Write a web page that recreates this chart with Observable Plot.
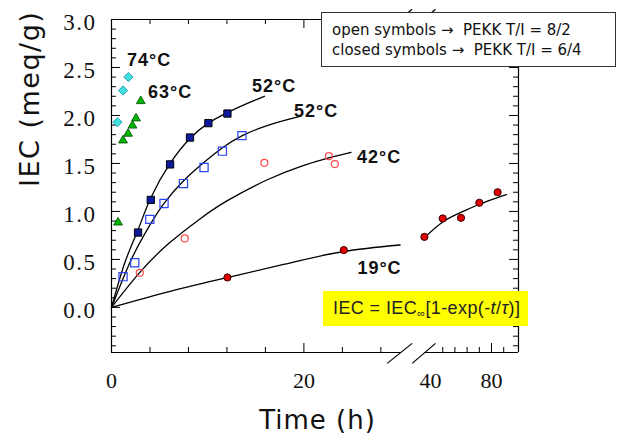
<!DOCTYPE html>
<html><head><meta charset="utf-8">
<script src="https://cdn.jsdelivr.net/npm/d3@7"></script>
<script src="https://cdn.jsdelivr.net/npm/@observablehq/plot@0.6"></script>
<style>
body{margin:0;background:#fff;}
#wrap{position:relative;width:620px;height:440px;overflow:hidden;background:#fff;}
#legend{position:absolute;left:321px;top:12px;width:293px;height:53px;border:1px solid #333;background:#fff;
  font-family:"DejaVu Sans",sans-serif;font-size:15px;line-height:20px;padding:0;box-sizing:content-box;color:#111;}
#legend div{white-space:pre;padding-left:10px;}
#eq{position:absolute;left:323px;top:291px;width:205px;height:35px;background:#ffff00;
  font-family:"Liberation Sans",Arial,sans-serif;font-size:18px;letter-spacing:0.4px;line-height:35px;color:#222;white-space:pre;padding-left:10px;box-sizing:border-box;}
#eq sub{font-size:11px;vertical-align:-3px;line-height:0;}
</style></head>
<body><div id="wrap"></div>
<script>
// ---- data ----
const closed74T = [0.62, 1.2, 1.76];
const closed74V = [1.93, 2.26, 2.40];
const closed63T = [0.68, 1.2, 1.72, 2.18, 2.55, 3.04];
const closed63V = [0.885, 1.74, 1.81, 1.895, 1.97, 2.15];
const closed52T = [2.76, 4.08, 6.09, 8.16, 10.07, 12.05];
const closed52V = [0.78, 1.12, 1.49, 1.77, 1.92, 2.02];
const open52T = [1.2, 2.42, 3.98, 5.46, 7.48, 9.62, 11.53, 13.56];
const open52V = [0.32, 0.465, 0.917, 1.083, 1.29, 1.458, 1.628, 1.79];
const open42T = [2.94, 7.61, 15.89, 22.6, 23.22];
const open42V = [0.36, 0.719, 1.506, 1.576, 1.493];
const closed19T = [12.05, 24.15, 36, 48, 60, 72, 84];
const closed19V = [0.312, 0.597, 0.735, 0.927, 0.933, 1.09, 1.20];

// fitted curves
const fit52cT = [0, 1.4, 2.76, 4.08, 6.09, 8.16, 10.07, 12.05, 14, 15.9];
const fit52cV = [0, 0.47, 0.81, 1.14, 1.50, 1.76, 1.92, 2.03, 2.12, 2.20];
const fit52oT = [0, 1.2, 2.4, 4, 5.5, 7.5, 9.6, 11.5, 13.6, 16.5, 19.6];
const fit52oV = [0, 0.30, 0.57, 0.86, 1.09, 1.32, 1.51, 1.66, 1.79, 1.905, 1.99];
const fit42T = [0, 2.9, 6, 9.3, 12, 16.2, 19.7, 22.5, 24.9];
const fit42V = [0, 0.36, 0.67, 0.93, 1.11, 1.33, 1.47, 1.555, 1.615];
const fit19aT = [0, 6, 12, 18, 24, 30];
const fit19aV = [0, 0.165, 0.31, 0.45, 0.58, 0.65];
const fit19bT = [35.2, 48, 60, 72, 84, 89.8];
const fit19bV = [0.715, 0.89, 0.99, 1.075, 1.145, 1.175];

// temperature labels
const tempText = ["74°C", "63°C", "52°C", "52°C", "42°C", "19°C"];
const tempT = [3.9, 6.1, 16.9, 21.27, 27.81, 27.86];
const tempV = [2.576, 2.237, 2.305, 2.044, 1.56, 0.403];

// axes
const xTickLabels = [0, 20, 40, 80];
const xMajorTicks = [20, 80];
const xMinorTicks = [4, 8, 12, 16, 24, 28, 48, 56, 64, 72, 88];
const yTickLabels = [0, 0.5, 1, 1.5, 2, 2.5, 3];
const yMinorTicks = d3.range(-4, 30).map(i => i / 10).filter(v => Math.abs(v * 2 - Math.round(v * 2)) > 1e-6);
const xSegStart = [0, 36.4];
const xSegEnd = [30.2, 97.7];
const breakFrom = [28.66, 32.65];
const breakTo = [32.65, 43.26];

// ---- build ----
const mk = (T, V) => T.map((t, i) => ({t, v: V[i]}));
const yMin = -0.47, yMax = 3.0, xMax = 97.7;
const mL = 111, mR = 102, mT = 19, mB = 88;
const pw = 620 - mL - mR, ph = 440 - mT - mB;
const segs = xSegStart.map((s, i) => ({x1: s, x2: xSegEnd[i]}));
const slashes = breakFrom.map((a, i) => ({a, b: breakTo[i]}));
const curveStyle = {x: "t", y: "v", curve: "natural", stroke: "#000", strokeWidth: 1.3};

const chart = Plot.plot({
  width: 620, height: 440,
  marginLeft: mL, marginRight: mR, marginTop: mT, marginBottom: mB,
  x: {type: "linear", domain: [0, 30, 35, xMax], range: [111, 399.6, 422.4, 518]},
  y: {domain: [yMin, yMax]},
  marks: [
    // frame
    Plot.ruleX([0, xMax], {stroke: "#000", strokeWidth: 1.2}),
    Plot.ruleY(segs, {y: yMin, x1: "x1", x2: "x2", stroke: "#000", strokeWidth: 1.2}),
    Plot.ruleY(segs, {y: yMax, x1: "x1", x2: "x2", stroke: "#000", strokeWidth: 1.2}),
    Plot.link(slashes, {x1: "a", x2: "b", y1: -0.583, y2: -0.375, stroke: "#000", strokeWidth: 1.2}),
    Plot.link(slashes, {x1: "a", x2: "b", y1: 2.899, y2: 3.107, stroke: "#000", strokeWidth: 1.2}),
    // inward ticks
    Plot.tickY(yTickLabels, {y: d => d, insetRight: pw - 9, stroke: "#000"}),
    Plot.tickY(yMinorTicks, {y: d => d, insetRight: pw - 5, stroke: "#000"}),
    Plot.tickY(yTickLabels, {y: d => d, insetLeft: pw - 9, stroke: "#000"}),
    Plot.tickY(yMinorTicks, {y: d => d, insetLeft: pw - 5, stroke: "#000"}),
    Plot.tickX(xMajorTicks, {x: d => d, insetTop: ph - 9, stroke: "#000"}),
    Plot.tickX(xMinorTicks, {x: d => d, insetTop: ph - 5, stroke: "#000"}),
    Plot.tickX(xMajorTicks, {x: d => d, insetBottom: ph - 9, stroke: "#000"}),
    Plot.tickX(xMinorTicks, {x: d => d, insetBottom: ph - 5, stroke: "#000"}),
    // tick labels
    Plot.axisX({ticks: xTickLabels, tickSize: 0, tickPadding: 20, tickFormat: d => String(d),
      fontSize: 22, fontFamily: "Liberation Serif, serif", label: null, anchor: "bottom", fill: "#111"}),
    Plot.axisY({ticks: yTickLabels, tickSize: 0, tickPadding: 15, tickFormat: d3.format(".1f"),
      fontSize: 23, fontFamily: "Liberation Serif, serif", label: null, anchor: "left", dy: 3, fill: "#111"}),
    // titles
    Plot.text(["Time (h)"], {frameAnchor: "bottom", dy: 76, dx: 2.5, text: d => d, fontSize: 26,
      fontFamily: "DejaVu Sans, sans-serif", fill: "#111"}),
    Plot.text(["IEC (meq/g)"], {frameAnchor: "left", rotate: -90, dx: -81, dy: 1, text: d => d, fontSize: 27,
      fontFamily: "DejaVu Sans, sans-serif", fill: "#111"}),
    // fitted curves
    Plot.line(mk(fit52cT, fit52cV), curveStyle),
    Plot.line(mk(fit52oT, fit52oV), curveStyle),
    Plot.line(mk(fit42T, fit42V), curveStyle),
    Plot.line(mk(fit19aT, fit19aV), curveStyle),
    Plot.line(mk(fit19bT, fit19bV), curveStyle),
    // data points
    Plot.dot(mk(open52T, open52V), {x: "t", y: "v", symbol: "square", r: 4.6, fill: "none", stroke: "#2a45f0", strokeWidth: 1.2}),
    Plot.dot(mk(open42T, open42V), {x: "t", y: "v", symbol: "circle", r: 3.5, fill: "none", stroke: "#ff4a4a", strokeWidth: 1.2}),
    Plot.dot(mk(closed52T, closed52V), {x: "t", y: "v", symbol: "square", r: 4.1, fill: "#0d1a9e", stroke: "#000", strokeWidth: 1}),
    Plot.dot(mk(closed19T, closed19V), {x: "t", y: "v", symbol: "circle", r: 3.6, fill: "#e00000", stroke: "#3a0000", strokeWidth: 1}),
    Plot.dot(mk(closed63T, closed63V), {x: "t", y: "v", symbol: "triangle", r: 3.3, fill: "#00b400", stroke: "#004d00", strokeWidth: 0.8}),
    Plot.dot(mk(closed74T, closed74V), {x: "t", y: "v", symbol: "diamond2", r: 4.2, fill: "#3fe0e0", stroke: "#1a8c9c", strokeWidth: 0.8}),
    // temperature labels
    Plot.text(tempText.map((s, i) => ({s, t: tempT[i], v: tempV[i]})), {x: "t", y: "v", text: "s",
      fontSize: 18, fontWeight: "bold", fontFamily: "Liberation Sans, Arial, sans-serif", fill: "#111"})
  ]
});

d3.select(chart).selectAll("text").each(function() {
  const t = this.textContent;
  if (t === "IEC (meq/g)") this.setAttribute("letter-spacing", "1.5");
  if (t === "Time (h)") this.setAttribute("letter-spacing", "1");
  if (t.includes("°C")) this.setAttribute("letter-spacing", "1");
  if (/^\d\.\d$/.test(t)) this.setAttribute("letter-spacing", "1.5");
});

const wrap = document.getElementById("wrap");
wrap.appendChild(chart);
const legend = document.createElement("div");
legend.id = "legend";
legend.innerHTML = '<div style="padding-top:7px">open symbols \u2192  PEKK T/I = 8/2</div><div>closed symbols \u2192  PEKK T/I = 6/4</div>';
wrap.appendChild(legend);
const eq = document.createElement("div");
eq.id = "eq";
eq.innerHTML = 'IEC = IEC<sub>\u221e</sub>[1-exp(-<i>t</i>/<i>\u03c4</i>)]';
wrap.appendChild(eq);
</script></body></html>
